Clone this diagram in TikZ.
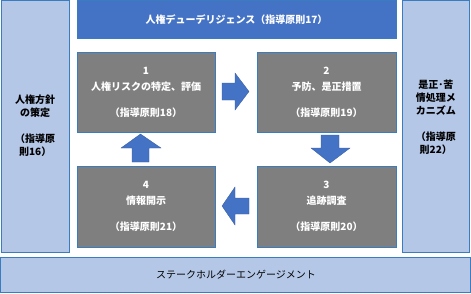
\documentclass[tikz,border=0pt]{standalone}
\usepackage{fontspec}
\setmainfont{Noto Sans CJK JP}
\definecolor{topblue}{HTML}{4472C4}
\definecolor{lightblue}{HTML}{B4C7E7}
\definecolor{edgeblue}{HTML}{3A7CC0}
\definecolor{boxgray}{HTML}{7F7F7F}
\begin{document}
\begin{tikzpicture}[x=1pt,y=-1pt,
  sidebox/.style={draw=edgeblue,line width=1pt,fill=lightblue},
  topbox/.style={draw=edgeblue,line width=0.8pt,fill=topblue},
  stepbox/.style={draw=edgeblue,line width=0.8pt,fill=boxgray},
  lbl/.style={font=\fontsize{10}{13}\selectfont\bfseries,align=center},
  wlbl/.style={lbl,text=white},
  bigarrow/.style={fill=topblue,draw=topblue!80!black,line width=0.3pt}]
\useasboundingbox (0,0) rectangle (471,293);
% frames
\draw[sidebox] (1.5,0.5) rectangle (69,252) coordinate (lbr);
\coordinate (lb) at (35.25,126);
\draw[sidebox] (402,0.5) rectangle (469.5,252);
\coordinate (rb) at (435.75,117);
\draw[sidebox] (0.5,257.5) rectangle (470.5,292.5);
\coordinate (bb) at (236,275);
\draw[topbox] (77,0.5) rectangle (396,38);
\coordinate (tb) at (236.5,19.5);
% step boxes
\draw[stepbox] (77,52) rectangle (215,132);
\draw[stepbox] (257,52) rectangle (396,132);
\draw[stepbox] (257,166) rectangle (396,247);
\draw[stepbox] (77,166) rectangle (215,247);
% labels
\node[lbl] (lt) at (lb) {人権方針\\の策定\\[13pt]（指導原\\則16）};
\node[lbl] (rt) at (rb) {是正･苦\\情処理メ\\カニズム\\[13pt]（指導原\\則22）};
\node[font=\fontsize{10}{13}\selectfont] (bt) at (bb) {ステークホルダーエンゲージメント};
\node[wlbl] (tt) at (tb) {人権デューデリジェンス（指導原則17）};
\node[wlbl] (s1) at (146,92) {1\\[3pt]人権リスクの特定、評価\\[13pt]（指導原則18）};
\node[wlbl] (s2) at (326.5,92) {2\\[3pt]予防、是正措置\\[13pt]（指導原則19）};
\node[wlbl] (s3) at (326.5,206.5) {3\\[3pt]追跡調査\\[13pt]（指導原則20）};
\node[wlbl] (s4) at (146,206.5) {4\\[3pt]情報開示\\[13pt]（指導原則21）};
% arrows
\draw[bigarrow] (222,83) -- (235,83) -- (235,73) -- (249,91.5) -- (235,110) -- (235,100) -- (222,100) -- cycle;
\draw[bigarrow] (321,135) -- (339,135) -- (339,148) -- (350,148) -- (330,163) -- (311,148) -- (321,148) -- cycle;
\draw[bigarrow] (249,198) -- (235,198) -- (235,187) -- (222,206) -- (235,225) -- (235,214) -- (249,214) -- cycle;
\draw[bigarrow] (132,162) -- (149,162) -- (149,148) -- (161,148) -- (140.5,134) -- (121,148) -- (132,148) -- cycle;
\end{tikzpicture}
\end{document}
